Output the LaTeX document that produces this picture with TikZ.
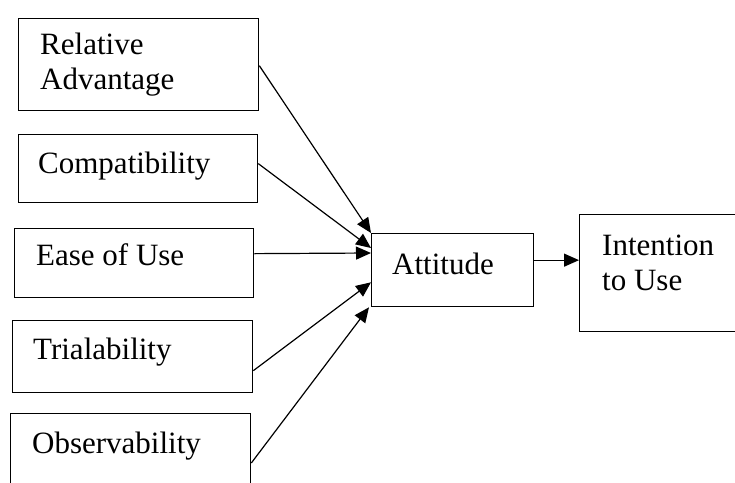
\documentclass[tikz,border=0pt]{standalone}
\usepackage{fontspec}
\setmainfont{Liberation Serif}
\usetikzlibrary{arrows.meta}
\begin{document}
\begin{tikzpicture}[x=1pt,y=-1pt,
  box/.style={draw, line width=1.3pt, rectangle, anchor=north west, inner sep=0pt},
  lbl/.style={anchor=base west, align=left, inner sep=0pt,
    font={\fontsize{31}{35}\selectfont}},
  arr/.style={line width=1.2pt, -{Triangle[length=15pt,width=13pt]}}]
  % page frame
  \fill[white] (0,0) rectangle (735,482);
  \clip (0,0) rectangle (735,482);

  % factor boxes
  \node[box, minimum width=240pt, minimum height=92pt] (ra) at (18,18) {};
  \node[box, minimum width=239pt, minimum height=68pt] (cp) at (18,134) {};
  \node[box, minimum width=239pt, minimum height=69pt] (eu) at (14,228) {};
  \node[box, minimum width=240pt, minimum height=72pt] (tr) at (12,320) {};
  \node[box, minimum width=240pt, minimum height=100pt] (ob) at (10,413) {};
  \node[box, minimum width=162pt, minimum height=73pt] (at) at (371,233) {};
  \node[box, minimum width=200pt, minimum height=117pt] (in) at (579,214) {};

  % labels (base anchor sits on the last line)
  \node[lbl] (raT) at (40,89) {Relative\\Advantage};
  \node[lbl] (cpT) at (38,173) {Compatibility};
  \node[lbl] (euT) at (36,265) {Ease of Use};
  \node[lbl] (trT) at (33,359) {Trialability};
  \node[lbl] (obT) at (32,453) {Observability};
  \node[lbl] (atT) at (392,274) {Attitude};
  \node[lbl] (inT) at (602,290) {Intention\\to Use};

  % connectors
  \draw[arr] ([yshift=-1pt]ra.east) -- (at.north west);
  \draw[arr] ([yshift=5pt]cp.east) -- ([yshift=-15pt]at.north west);
  \draw[arr] ([yshift=9.5pt]eu.east) -- ([yshift=-20pt]at.north west);
  \draw[arr] ([yshift=-14pt]tr.east) -- ([yshift=25pt]at.south west);
  \draw[arr] ([yshift=-50pt]ob.north east) -- ([xshift=-2pt]at.south west);
  \draw[arr] ([yshift=10pt]at.east) -- ([yshift=13pt]in.west);
\end{tikzpicture}
\end{document}
